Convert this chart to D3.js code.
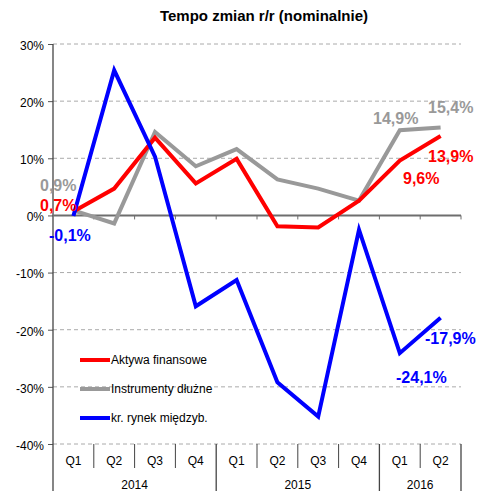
<!DOCTYPE html>
<html>
<head>
<meta charset="utf-8">
<script src="https://d3js.org/d3.v7.min.js"></script>
<style>
  body { margin: 0; background: #fff; }
  text { font-family: Arial, "Liberation Sans", sans-serif; }
</style>
</head>
<body>
<script>
// data
var quarters = ["Q1","Q2","Q3","Q4","Q1","Q2","Q3","Q4","Q1","Q2"];
var years = ["2014","2015","2016"];
var yearSpans = [4, 4, 2];
var aktywa = [0.7, 4.7, 13.6, 5.6, 9.9, -1.9, -2.1, 2.6, 9.6, 13.9];
var instrumenty = [0.9, -1.4, 14.6, 8.6, 11.6, 6.3, 4.7, 2.6, 14.9, 15.4];
var rynek = [-0.1, 25.4, 10.3, -15.9, -11.3, -29.2, -35.2, -2.5, -24.1, -17.9];
var yTicks = [30, 20, 10, 0, -10, -20, -30, -40];

var series = [
  {name: "Aktywa finansowe", values: aktywa, color: "#ff0000"},
  {name: "Instrumenty dłużne", values: instrumenty, color: "#999999"},
  {name: "kr. rynek międzyb.", values: rynek, color: "#0000ff"}
];

var W = 477, H = 491;
var pLeft = 53, pRight = 461, pTop = 44, pBottom = 444;

var svg = d3.select("body").append("svg")
  .attr("width", W).attr("height", H);

var x = d3.scaleBand().domain(d3.range(quarters.length)).range([pLeft, pRight]);
var y = d3.scaleLinear().domain([-40, 30]).range([pBottom, pTop]);

// title
svg.append("text")
  .attr("x", 264).attr("y", 21)
  .attr("text-anchor", "middle")
  .style("font-size", "15px").style("font-weight", "bold")
  .text("Tempo zmian r/r (nominalnie)");

// gridlines
svg.append("g").selectAll("line")
  .data(yTicks.filter(function(d){ return d != 0; }))
  .join("line")
  .attr("x1", pLeft).attr("x2", pRight)
  .attr("y1", function(d){ return y(d); }).attr("y2", function(d){ return y(d); })
  .attr("stroke", "#aaaaaa").attr("stroke-width", 1)
  .attr("stroke-dasharray", "4,3");

// y axis
var yAxis = d3.axisLeft(y).tickValues(yTicks).tickSize(5).tickFormat(function(d){ return d + "%"; });
var ya = svg.append("g").attr("transform", "translate(" + pLeft + ",0)").call(yAxis);
ya.select(".domain").remove();
ya.selectAll("line").attr("stroke", "#555");
ya.selectAll("text").attr("x", -9).attr("dy", "0.45em").style("font-size", "12px").attr("fill", "#000");
svg.append("line").attr("x1", pLeft).attr("x2", pLeft).attr("y1", pTop).attr("y2", H)
  .attr("stroke", "#444").attr("stroke-width", 1.3);

// zero axis with ticks between categories
svg.append("line").attr("x1", pLeft).attr("x2", pRight)
  .attr("y1", y(0)).attr("y2", y(0))
  .attr("stroke", "#6e6e6e").attr("stroke-width", 2);
svg.append("g").selectAll("line")
  .data(d3.range(1, quarters.length + 1))
  .join("line")
  .attr("x1", function(i){ return pLeft + i * x.step(); })
  .attr("x2", function(i){ return pLeft + i * x.step(); })
  .attr("y1", y(0)).attr("y2", y(0) + 4)
  .attr("stroke", "#6e6e6e").attr("stroke-width", 1);

// category axis below
var qSep = svg.append("g");
quarters.forEach(function(q, i){
  qSep.append("text")
    .attr("x", x(i) + x.bandwidth() / 2).attr("y", 465)
    .attr("text-anchor", "middle").style("font-size", "12px")
    .text(q);
});
var boundaries = [];
var acc = 0;
yearSpans.forEach(function(s){ acc += s; boundaries.push(acc); });
d3.range(1, quarters.length).forEach(function(i){
  if (boundaries.indexOf(i) < 0) {
    qSep.append("line")
      .attr("x1", pLeft + i * x.step()).attr("x2", pLeft + i * x.step())
      .attr("y1", pBottom).attr("y2", 468)
      .attr("stroke", "#444").attr("stroke-width", 1);
  }
});
var start = 0;
years.forEach(function(yr, j){
  var a = pLeft + start * x.step();
  var b = pLeft + (start + yearSpans[j]) * x.step();
  qSep.append("text")
    .attr("x", (a + b) / 2).attr("y", 489)
    .attr("text-anchor", "middle").style("font-size", "12px")
    .text(yr);
  qSep.append("line")
    .attr("x1", b).attr("x2", b).attr("y1", pBottom).attr("y2", H)
    .attr("stroke", "#444").attr("stroke-width", 1.3);
  start += yearSpans[j];
});

// series lines
var line = d3.line()
  .x(function(d, i){ return x(i) + x.bandwidth() / 2; })
  .y(function(d){ return y(d); });
[1, 0, 2].forEach(function(k){
  var s = series[k];
  svg.append("path").datum(s.values)
    .attr("d", line)
    .attr("fill", "none")
    .attr("stroke", s.color)
    .attr("stroke-width", 4)
    .attr("stroke-linejoin", "miter");
});

// value labels
var labels = [
  {t: "0,9%", c: "#999999", x: 40, y: 191},
  {t: "0,7%", c: "#ff0000", x: 40, y: 211},
  {t: "-0,1%", c: "#0000ff", x: 49, y: 241},
  {t: "14,9%", c: "#999999", x: 373, y: 124},
  {t: "15,4%", c: "#999999", x: 428, y: 113},
  {t: "13,9%", c: "#ff0000", x: 428, y: 162},
  {t: "9,6%", c: "#ff0000", x: 403, y: 184},
  {t: "-17,9%", c: "#0000ff", x: 425, y: 344},
  {t: "-24,1%", c: "#0000ff", x: 396, y: 383}
];
svg.append("g").selectAll("text").data(labels).join("text")
  .attr("x", function(d){ return d.x; }).attr("y", function(d){ return d.y; })
  .attr("fill", function(d){ return d.c; })
  .style("font-size", "16px").style("font-weight", "bold")
  .text(function(d){ return d.t; });

// legend
var lg = svg.append("g");
series.forEach(function(s, i){
  var ly = 360 + i * 29;
  lg.append("line").attr("x1", 80).attr("x2", 110).attr("y1", ly).attr("y2", ly)
    .attr("stroke", s.color).attr("stroke-width", 4);
  lg.append("text").attr("x", 111).attr("y", ly + 4)
    .style("font-size", "12px").text(s.name);
});
</script>
</body>
</html>
